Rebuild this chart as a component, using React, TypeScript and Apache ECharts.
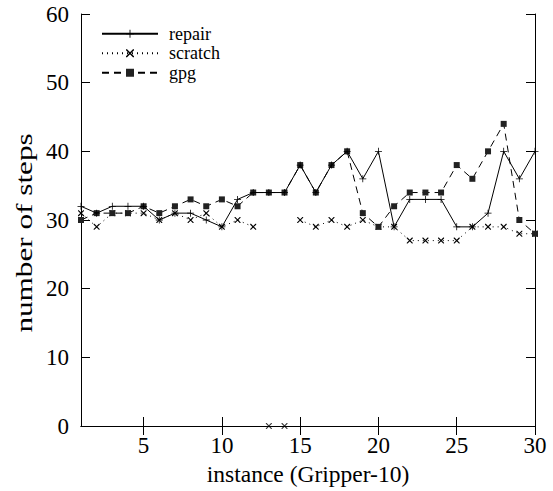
import React, { useEffect, useRef } from "react";
import * as echarts from "echarts";

const instances = [1,2,3,4,5,6,7,8,9,10,11,12,13,14,15,16,17,18,19,20,21,22,23,24,25,26,27,28,29,30];
const repair = [32,31,32,32,32,30,31,31,30,29,33,34,34,34,38,34,38,40,36,40,29,33,33,33,29,29,31,40,36,40];
const scratch = [31,29,31,31,31,30,31,30,31,29,30,29,0,0,30,29,30,29,30,29,29,27,27,27,27,29,29,29,28,28];
const gpg = [30,31,31,31,32,31,32,33,32,33,32,34,34,34,38,34,38,40,31,29,32,34,34,34,38,36,40,44,30,28];
const xTicks = [5,10,15,20,25,30];

const FONT = "Liberation Serif";
const PLUS = "path://M4,0h1v9h-1zM0,4h9v1h-9z";
const CROSS = "path://M0,0L1.2,0L9,7.8L9,9L7.8,9L0,1.2zM7.8,0L9,0L9,1.2L1.2,9L0,9L0,7.8z";
const BOX = "path://M0,0h8v8h-8z";

export default function App() {
  const ref = useRef<HTMLDivElement>(null);
  useEffect(() => {
    if (!ref.current) return;
    const chart = echarts.init(ref.current, null, { renderer: "svg" });
    const lbl = { color: "#000", fontFamily: FONT, fontSize: 23 };
    const axisLine = { show: true, lineStyle: { color: "#000", width: 1 } };
    const tick = { show: true, inside: true, length: 9, lineStyle: { color: "#000", width: 1 } };
    const scratchLine = instances.map((x, i) => [x, scratch[i] === 0 ? "-" : scratch[i]]);
    const scratchZero = instances.map((x, i) => [x, scratch[i]]).filter((d) => d[1] === 0);
    chart.setOption({
      animation: false,
      grid: { left: 81, right: 18, top: 14, bottom: 60, containLabel: false },
      graphic: [
        {
          type: "text",
          x: 24, y: 233,
          rotation: Math.PI / 2,
          scaleX: 1.3,
          style: {
            text: "number of steps",
            fill: "#000",
            font: `24px "${FONT}"`,
            textAlign: "center",
            textVerticalAlign: "middle",
          },
        },
      ],
      legend: {
        data: ["repair", "scratch", "gpg"],
        orient: "vertical",
        left: 96,
        top: 19,
        itemWidth: 56,
        itemHeight: 10,
        itemGap: 0,
        textStyle: { color: "#000", fontFamily: FONT, fontSize: 18, lineHeight: 19.5, padding: [0, 0, 0, 6] },
      },
      xAxis: [
        {
          type: "value", min: 1, max: 30,
          axisLine, axisTick: { ...tick, customValues: xTicks },
          axisLabel: { ...lbl, margin: 8, customValues: xTicks },
          splitLine: { show: false },
          name: "instance (Gripper-10)", nameLocation: "middle", nameGap: 36,
          nameTextStyle: { ...lbl, fontSize: 23.5 },
        },
        {
          type: "value", min: 1, max: 30, position: "top",
          axisLine, axisTick: { ...tick, customValues: xTicks },
          axisLabel: { show: false }, splitLine: { show: false },
        },
      ],
      yAxis: [
        {
          type: "value", min: 0, max: 60, interval: 10,
          axisLine, axisTick: tick,
          axisLabel: { ...lbl, margin: 12 },
          splitLine: { show: false },
        },
        {
          type: "value", min: 0, max: 60, interval: 10, position: "right",
          axisLine, axisTick: tick, axisLabel: { show: false }, splitLine: { show: false },
        },
      ],
      series: [
        {
          name: "repair", type: "line",
          data: instances.map((x, i) => [x, repair[i]]),
          symbol: PLUS, symbolSize: 7, showAllSymbol: true,
          lineStyle: { color: "#000", width: 1 },
          itemStyle: { color: "#000" },
          z: 3,
        },
        {
          name: "scratch", type: "line",
          data: scratchLine, connectNulls: false,
          symbol: CROSS, symbolSize: 6, showAllSymbol: true,
          lineStyle: { color: "#000", width: 1, type: [1, 4] },
          itemStyle: { color: "#000" },
          z: 2,
        },
        {
          name: "scratch-zero", type: "scatter",
          data: scratchZero, symbol: CROSS, symbolSize: 6,
          itemStyle: { color: "#000" }, clip: false,
        },
        {
          name: "gpg", type: "line",
          data: instances.map((x, i) => [x, gpg[i]]),
          symbol: BOX, symbolSize: 6, showAllSymbol: true,
          lineStyle: { color: "#000", width: 1, type: [7, 5] },
          itemStyle: { color: "#222" },
          z: 2,
        },
      ],
    });
    return () => chart.dispose();
  }, []);
  return <div ref={ref} style={{ width: 553, height: 491, position: "absolute", left: 0, top: 0, background: "#fff" }} />;
}
